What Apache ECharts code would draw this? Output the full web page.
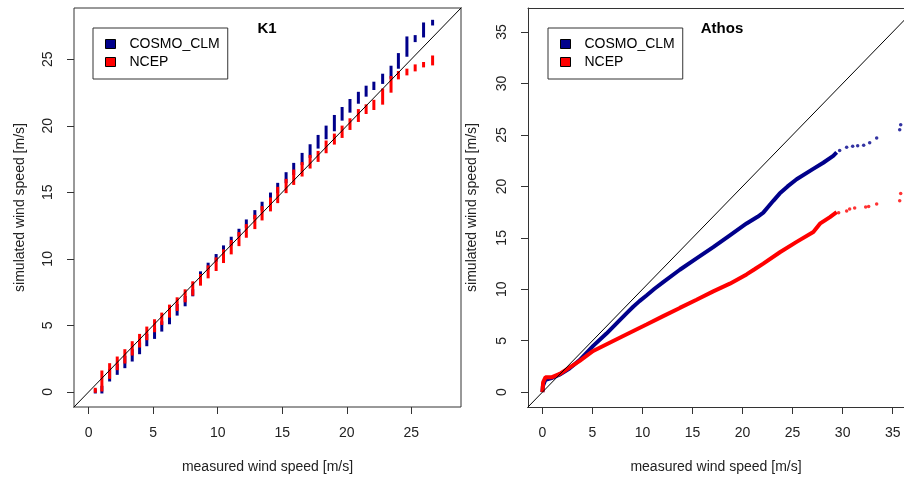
<!DOCTYPE html>
<html>
<head>
<meta charset="utf-8">
<title>Wind speed QQ plots</title>
<script src="https://cdn.jsdelivr.net/npm/echarts@6/dist/echarts.min.js"></script>
<style>
  html, body { margin: 0; padding: 0; background: #fff; overflow: hidden; }
  #chart { position: absolute; left: 0; top: 0; width: 904px; height: 479px; }
</style>
</head>
<body>
<div id="chart"></div>
<script>
// K1: measured values come in discrete steps, so each step is a vertical stripe
const K1_MEASURED = [0.52, 1.03, 1.63, 2.22, 2.81, 3.38, 3.95, 4.51, 5.11, 5.67, 6.27, 6.86, 7.48, 8.07,
  8.67, 9.26, 9.88, 10.45, 11.05, 11.65, 12.22, 12.88, 13.44, 14.09, 14.65, 15.3, 15.89, 16.54, 17.16,
  17.78, 18.4, 19.04, 19.64, 20.25, 20.9, 21.5, 22.1, 22.78, 23.43, 24.0, 24.66, 25.3, 25.95, 26.65];
const K1_COSMO_LOW = [0, 0, 0.9, 1.4, 1.9, 2.4, 2.95, 3.55, 4.1, 4.65, 5.2, 5.85, 6.55, 7.3,
  8.6, 9.3, 9.9, 10.5, 11.1, 11.8, 12.45, 13.1, 13.75, 14.43, 15.05, 15.8, 16.42, 17.16, 17.7,
  18.4, 19.1, 19.7, 20.5, 21.1, 21.77, 22.3, 22.8, 23.26, 23.65, 24.4, 25.3, 26.4, 26.75, 27.65];
const K1_COSMO_HIGH = [0.1, 0.35, 1.6, 2.0, 2.6, 3.1, 3.6, 4.25, 4.7, 5.2, 5.9, 6.5, 7.1, 7.6,
  8.95, 9.6, 10.25, 10.9, 11.55, 12.15, 12.85, 13.55, 14.18, 14.87, 15.6, 16.4, 17.1, 17.85, 18.5,
  19.2, 19.9, 20.7, 21.3, 21.9, 22.44, 22.9, 23.2, 23.8, 24.4, 25.35, 26.6, 26.7, 27.65, 27.85];
const K1_NCEP_LOW = [0.05, 0.15, 1.1, 1.75, 2.25, 2.85, 3.45, 4.0, 4.6, 5.15, 5.7, 6.2, 6.85, 7.35,
  8.1, 8.65, 9.2, 9.8, 10.45, 11.07, 11.7, 12.35, 13.0, 13.68, 14.3, 15.05, 15.67, 16.3, 16.9,
  17.4, 18.05, 18.7, 19.2, 19.8, 20.4, 21.0, 21.3, 21.7, 22.6, 23.6, 23.9, 24.2, 24.5, 24.65];
const K1_NCEP_HIGH = [0.2, 1.5, 2.05, 2.55, 3.1, 3.7, 4.25, 4.8, 5.35, 5.85, 6.45, 7.0, 7.6, 8.2,
  8.75, 9.4, 10.0, 10.6, 11.3, 11.9, 12.5, 13.2, 13.85, 14.5, 15.3, 15.9, 16.6, 17.16, 17.7,
  18.0, 18.78, 19.3, 19.9, 20.45, 21.14, 21.5, 21.84, 22.69, 23.63, 24.0, 24.18, 24.5, 24.68, 25.17];

// Athos: dense quantile curves plus the sparse upper tail
const ATHOS_COSMO = [[0, 0], [0.05, 0.6], [0.3, 1.2], [1.0, 1.4], [1.7, 1.7], [2.7, 2.3], [3.7, 3.1],
  [5.07, 4.5], [6.4, 5.7], [7.73, 7.0], [8.5, 7.75], [9.07, 8.3], [9.7, 8.85], [10.4, 9.4],
  [11.2, 10.05], [12.07, 10.7], [13.73, 11.9], [15.4, 13.0], [17.07, 14.1], [18.73, 15.25],
  [20.4, 16.4], [21.5, 17.05], [22.07, 17.45], [22.5, 17.95], [23.07, 18.6], [23.7, 19.3],
  [24.5, 20.0], [25.4, 20.7], [27.06, 21.7], [28.06, 22.3], [29.06, 22.96], [29.4, 23.3]];
const ATHOS_COSMO_TAIL = [[29.7, 23.5], [30.4, 23.8], [31.0, 23.9], [31.5, 23.95], [32.1, 24.0],
  [32.7, 24.25], [33.4, 24.7], [35.7, 25.5], [35.8, 26.0]];
const ATHOS_NCEP = [[0, 0], [0.07, 0.96], [0.3, 1.44], [0.9, 1.44], [1.73, 1.77], [2.73, 2.41],
  [3.73, 3.05], [5.07, 4.01], [7.07, 4.98], [8.73, 5.78], [10.4, 6.58], [12.07, 7.39], [13.73, 8.19],
  [15.4, 8.99], [17.07, 9.8], [18.73, 10.55], [20.4, 11.45], [21.2, 11.95], [22.07, 12.5],
  [23.73, 13.6], [25.4, 14.61], [27.07, 15.57], [27.73, 16.38], [28.73, 17.02], [29.4, 17.5]];
const ATHOS_NCEP_TAIL = [[29.6, 17.45], [30.4, 17.6], [30.7, 17.8], [31.2, 17.9], [32.3, 18.0],
  [32.6, 18.05], [33.4, 18.3], [35.7, 18.6], [35.8, 19.3]];

const K1_TICKS = [0, 5, 10, 15, 20, 25];
const ATHOS_TICKS = [0, 5, 10, 15, 20, 25, 30, 35];

const BLUE = "#00008b";
const RED = "#ff0000";
const INK = "#222";
const FRAME = "#333";
const FONT = "Liberation Sans, Arial, sans-serif";

function stripes(low, high) {
  return K1_MEASURED.map((x, i) => [x, low[i], high[i]]);
}

function renderStripe(params, api) {
  const top = api.coord([api.value(0), api.value(2)]);
  const bottom = api.coord([api.value(0), api.value(1)]);
  return {
    type: "rect",
    shape: { x: top[0] - 1.5, y: top[1] - 1.5, width: 3, height: bottom[1] - top[1] + 3 },
    style: { fill: api.visual("color") },
  };
}

function axis(gridIndex, min, max, ticks, name, vertical, nameGap, showLine) {
  return {
    type: "value",
    gridIndex,
    min,
    max,
    name,
    nameLocation: "middle",
    nameGap,
    nameTextStyle: { color: INK, fontSize: 14, fontFamily: FONT },
    splitLine: { show: false },
    axisLine: { show: !!showLine, onZero: false, lineStyle: { color: FRAME, width: 1 } },
    axisTick: { show: true, length: 7, customValues: ticks, lineStyle: { color: FRAME } },
    axisLabel: {
      customValues: ticks,
      margin: 19,
      rotate: vertical ? 90 : 0,
      color: INK,
      fontSize: 14,
      fontFamily: FONT,
    },
  };
}

function diagonal(index, end) {
  return {
    type: "line",
    name: "diagonal",
    xAxisIndex: index,
    yAxisIndex: index,
    data: [[-2, -2], [end, end]],
    symbol: "none",
    silent: true,
    z: 5,
    lineStyle: { color: "#000", width: 1 },
  };
}

function legendAt(left) {
  return {
    data: ["COSMO_CLM", "NCEP"],
    orient: "vertical",
    left,
    top: 28,
    icon: "rect",
    itemWidth: 10,
    itemHeight: 9,
    itemGap: 4,
    padding: [9, 8, 10, 12],
    borderColor: FRAME,
    borderWidth: 1,
    selectedMode: false,
    itemStyle: { borderColor: "#000", borderWidth: 1 },
    textStyle: { color: "#000", fontSize: 14, fontFamily: FONT, padding: [0, 0, 0, 9], lineHeight: 14 },
  };
}

// the Athos frame is cut by the right edge of the figure, so its frame is drawn
// with three axis lines instead of the grid border
const ATHOS_MAX = 36.13;

const chart = echarts.init(document.getElementById("chart"), null, { renderer: "canvas" });

chart.setOption({
  animation: false,
  backgroundColor: "#fff",
  title: [
    { text: "K1", left: 267, top: 21, padding: 0, textAlign: "center",
      textStyle: { fontSize: 15, fontWeight: "bold", color: "#000", fontFamily: FONT } },
    { text: "Athos", left: 722, top: 21, padding: 0, textAlign: "center",
      textStyle: { fontSize: 15, fontWeight: "bold", color: "#000", fontFamily: FONT } },
  ],
  legend: [legendAt(93), legendAt(548)],
  grid: [
    { left: 74, right: 443, top: 8, bottom: 69, show: true, borderColor: FRAME, borderWidth: 1, backgroundColor: "transparent" },
    { left: 528, right: 0, top: 8, bottom: 69 },
  ],
  xAxis: [
    axis(0, -1.13, 28.85, K1_TICKS, "measured wind speed [m/s]", false, 53, false),
    axis(1, -1.44, ATHOS_MAX, ATHOS_TICKS, "measured wind speed [m/s]", false, 53, true),
    {
      type: "value", gridIndex: 1, position: "top", min: -1.44, max: ATHOS_MAX,
      axisLine: { show: true, onZero: false, lineStyle: { color: FRAME, width: 1 } },
      axisTick: { show: false }, axisLabel: { show: false }, splitLine: { show: false },
    },
  ],
  yAxis: [
    axis(0, -1.13, 28.85, K1_TICKS, "simulated wind speed [m/s]", true, 47, false),
    axis(1, -1.44, 37.34, ATHOS_TICKS, "simulated wind speed [m/s]", true, 49, true),
  ],
  series: [
    {
      type: "custom", name: "COSMO_CLM", xAxisIndex: 0, yAxisIndex: 0, clip: true,
      itemStyle: { color: BLUE }, renderItem: renderStripe, data: stripes(K1_COSMO_LOW, K1_COSMO_HIGH),
    },
    {
      type: "custom", name: "NCEP", xAxisIndex: 0, yAxisIndex: 0, clip: true,
      itemStyle: { color: RED }, renderItem: renderStripe, data: stripes(K1_NCEP_LOW, K1_NCEP_HIGH),
    },
    {
      type: "line", name: "COSMO_CLM", xAxisIndex: 1, yAxisIndex: 1, data: ATHOS_COSMO,
      symbol: "none", itemStyle: { color: BLUE }, lineStyle: { color: BLUE, width: 4 },
    },
    {
      type: "scatter", name: "COSMO_CLM", xAxisIndex: 1, yAxisIndex: 1, data: ATHOS_COSMO_TAIL,
      symbolSize: 3.5, itemStyle: { color: BLUE },
    },
    {
      type: "line", name: "NCEP", xAxisIndex: 1, yAxisIndex: 1, data: ATHOS_NCEP,
      symbol: "none", itemStyle: { color: RED }, lineStyle: { color: RED, width: 4 },
    },
    {
      type: "scatter", name: "NCEP", xAxisIndex: 1, yAxisIndex: 1, data: ATHOS_NCEP_TAIL,
      symbolSize: 3.5, itemStyle: { color: RED },
    },
    diagonal(0, 30),
    diagonal(1, 40),
  ],
});
</script>
</body>
</html>
